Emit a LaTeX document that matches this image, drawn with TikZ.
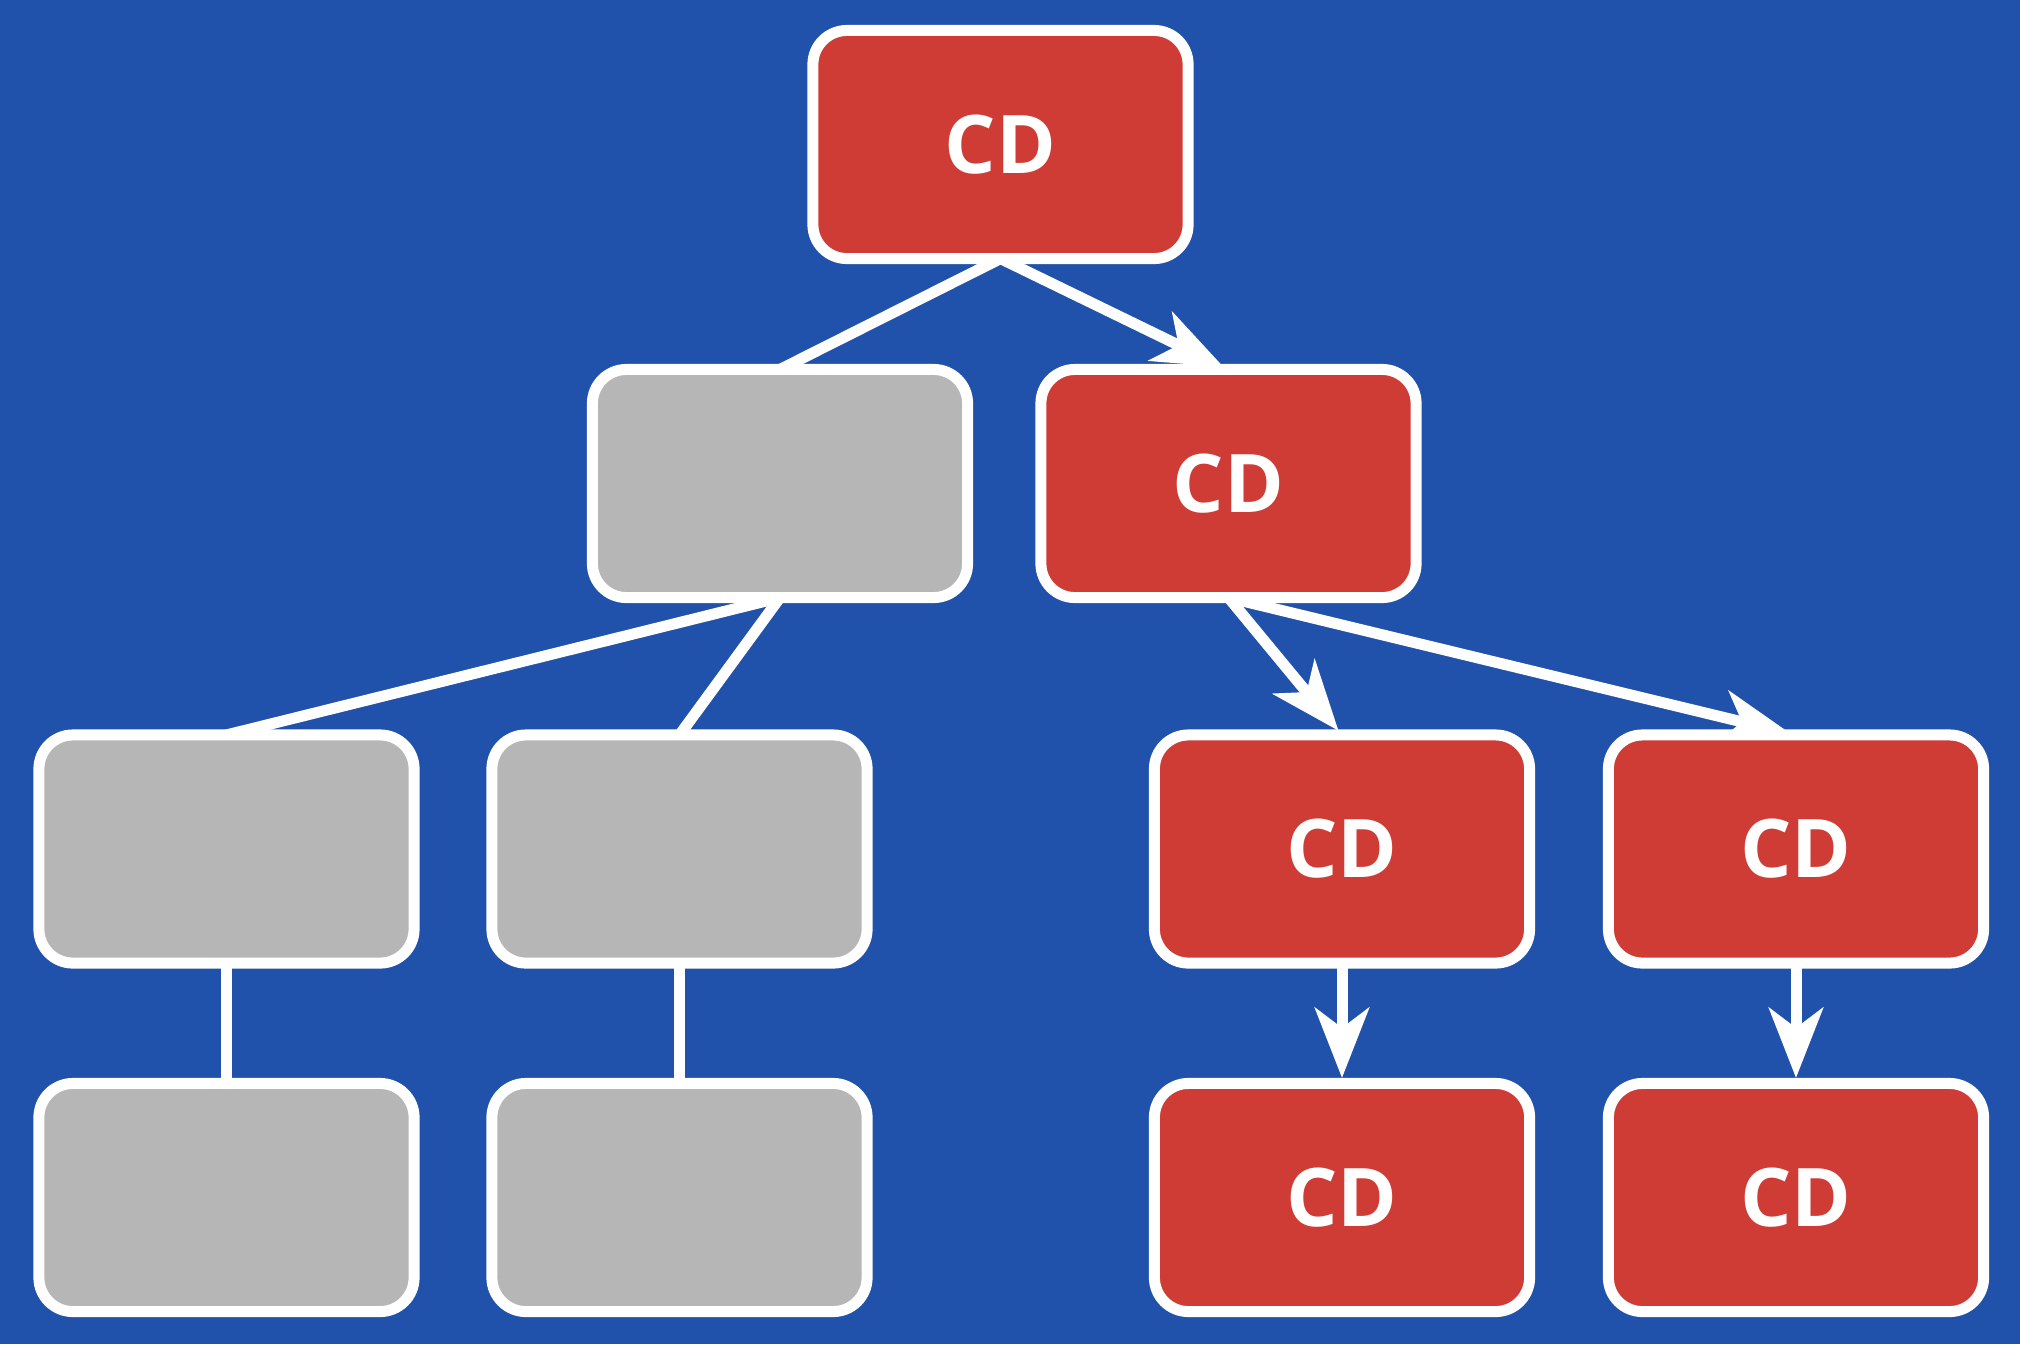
\documentclass[tikz,border=0pt]{standalone}
\usepackage{fontspec}
\setmainfont{Open Sans}
\usetikzlibrary{arrows.meta}
\definecolor{bgblue}{RGB}{33,82,171}
\definecolor{boxred}{RGB}{207,60,53}
\definecolor{boxgray}{RGB}{182,182,182}
\pgfdeclarelayer{back}
\pgfdeclarelayer{edges}
\pgfsetlayers{back,edges,main}
\tikzset{
  box/.style={draw=white, line width=0.11cm, rounded corners=0.34cm,
    minimum width=3.75cm, minimum height=2.28cm, inner sep=0pt, outer sep=0pt,
    text=white, font=\fontsize{23}{27}\selectfont\bfseries},
  redbox/.style={box, fill=boxred},
  graybox/.style={box, fill=boxgray},
  link/.style={draw=white, line width=0.11cm},
  arrowlink/.style={link, shorten >=0.055cm, -{Stealth[length=0.7cm, width=0.54cm, inset=0.2cm]}}
}
\begin{document}
\begin{tikzpicture}[x=0.01cm, y=-0.01cm]
\begin{pgfonlayer}{back}
\fill[bgblue] (0,0) rectangle (2020,1344);
\end{pgfonlayer}
\useasboundingbox (0,0) rectangle (2020,1344);
% level 1
\node[redbox] (root) at (1000.5,144.5) {CD};
% level 2
\node[graybox] (g2) at (780,483.5) {};
\node[redbox] (r2) at (1228.5,483.5) {CD};
% level 3
\node[graybox] (g3a) at (226.5,849) {};
\node[graybox] (g3b) at (679.5,849) {};
\node[redbox] (r3a) at (1342,849) {CD};
\node[redbox] (r3b) at (1796,849) {CD};
% level 4
\node[graybox] (g4a) at (226.5,1197.5) {};
\node[graybox] (g4b) at (679.5,1197.5) {};
\node[redbox] (r4a) at (1342,1197.5) {CD};
\node[redbox] (r4b) at (1796,1197.5) {CD};
% connectors
\begin{pgfonlayer}{edges}
\draw[link] (root.south) -- (g2.north);
\draw[arrowlink] (root.south) -- (r2.north);
\draw[link] (g2.south) -- (g3a.north);
\draw[link] (g2.south) -- (g3b.north);
\draw[arrowlink] (r2.south) -- (r3a.north);
\draw[arrowlink] (r2.south) -- (r3b.north);
\draw[link] (g3a.south) -- (g4a.north);
\draw[link] (g3b.south) -- (g4b.north);
\draw[arrowlink] (r3a.south) -- (r4a.north);
\draw[arrowlink] (r3b.south) -- (r4b.north);
\end{pgfonlayer}
\end{tikzpicture}
\end{document}
